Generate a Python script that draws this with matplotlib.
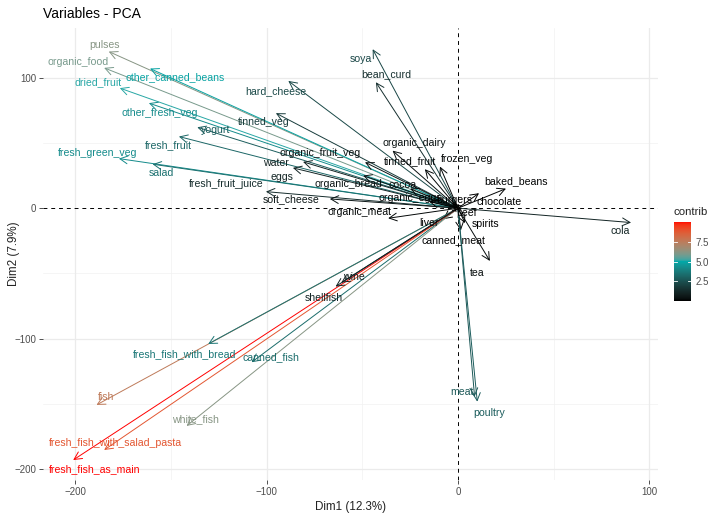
import numpy as np
import matplotlib
matplotlib.use('Agg')
from matplotlib import pyplot as plt
from matplotlib.colors import ListedColormap, Normalize, to_rgb

plt.rcParams['font.family'] = ['Liberation Sans', 'DejaVu Sans']

# PCA variable coordinates (Dim1, Dim2) and contributions
variables = ['pulses', 'organic_food', 'other_canned_beans', 'dried_fruit', 'hard_cheese',
             'other_fresh_veg', 'tinned_veg', 'yogurt', 'fresh_fruit', 'fresh_green_veg',
             'salad', 'water', 'eggs', 'fresh_fruit_juice', 'organic_fruit_veg',
             'organic_bread', 'cocoa', 'soft_cheese', 'organic_meat', 'soya',
             'bean_curd', 'organic_dairy', 'tinned_fruit', 'frozen_veg', 'baked_beans',
             'chocolate', 'cola', 'liver', 'spirits', 'canned_meat', 'tea', 'meat',
             'poultry', 'fish', 'fresh_fish_with_bread', 'canned_fish',
             'white_fish', 'fresh_fish_with_salad_pasta', 'fresh_fish_as_main',
             'wine', 'shellfish', 'organic_eggs', 'burgers', 'beef']
dim1 = [-182.6, -185.0, -161.0, -176.8, -88.7,
        -161.6, -95.2, -136.3, -145.9, -177.3,
        -159.7, -81.0, -86.3, -100.4, -48.6,
        -49.6, -25.0, -67.0, -36.5, -44.6,
        -42.9, -34.2, -17.3, -9.4, 25.1,
        11.0, 90.5, -7.7, 3.7, 1.5, 16.7, 8.7,
        10.1, -189.0, -130.6, -107.9,
        -141.9, -185.0, -201.2,
        -61.0, -64.0, -15.0, -3.0, 2.0]
dim2 = [120.0, 107.5, 107.0, 92.0, 97.5,
        80.5, 72.8, 62.0, 54.9, 38.0,
        33.7, 35.5, 30.9, 12.7, 35.2,
        25.0, 15.0, 7.1, -7.7, 121.8,
        96.5, 44.1, 29.9, 31.9, 15.0,
        11.5, -11.0, -8.4, -11.4, -17.0, -40.4, -144.4,
        -148.2, -150.7, -104.0, -118.0,
        -166.8, -185.2, -192.9,
        -57.0, -60.0, 5.0, 4.0, -1.0]
contrib = [6.2, 5.95, 4.86, 5.16, 2.26,
           4.24, 1.87, 2.91, 3.16, 4.26,
           3.46, 1.02, 1.09, 1.33, 0.47,
           0.40, 0.16, 0.59, 0.18, 2.19,
           1.45, 0.40, 0.16, 0.14, 0.11,
           0.03, 1.08, 0.02, 0.02, 0.04, 0.25, 2.72,
           2.87, 7.6, 3.62, 3.33,
           6.23, 8.9, 10.1,
           0.91, 1.00, 0.04, 0.01, 0.0]

# label offsets (pixels) from the arrow tip, like ggrepel placed them
label_offset = {
    'pulses': (-4, 7), 'organic_food': (-26, 6), 'other_canned_beans': (25, -9),
    'dried_fruit': (-22, 6), 'hard_cheese': (-13, -10), 'other_fresh_veg': (11, -10),
    'tinned_veg': (-12, -9), 'yogurt': (18, -3), 'fresh_fruit': (-11, -9),
    'fresh_green_veg': (-21, 6), 'salad': (9, -9), 'water': (-27, -1), 'eggs': (-11, -9),
    'fresh_fruit_juice': (-40, 8), 'organic_fruit_veg': (-45, 9),
    'organic_bread': (-15, -8), 'cocoa': (-8, 4), 'soft_cheese': (-39, 0),
    'organic_meat': (-29, 6), 'soya': (-12, -10), 'bean_curd': (10, 8),
    'organic_dairy': (22, 8), 'tinned_fruit': (-15, 8), 'frozen_veg': (27, 8),
    'baked_beans': (10, 8), 'chocolate': (20, -9), 'cola': (-11, -8),
    'liver': (-14, -4), 'spirits': (20, -1), 'canned_meat': (-7, -10),
    'tea': (-13, -12), 'meat': (-13, 5), 'poultry': (12, -11), 'wine': (13, 6),
    'shellfish': (-12, -11), 'fresh_fish_with_bread': (-24, -10),
    'canned_fish': (19, 5), 'fish': (10, 8), 'white_fish': (9, 7),
    'fresh_fish_with_salad_pasta': (11, 7), 'fresh_fish_as_main': (21, -9),
    'organic_eggs': (-19, 4), 'burgers': (2, 3), 'beef': (5, -3),
}


# ggplot interpolates gradients in Lab space
def srgb_to_lab(rgb):
    c = np.asarray(rgb, float)
    c = np.where(c <= 0.04045, c / 12.92, ((c + 0.055) / 1.055) ** 2.4)
    m = np.array([[0.4124, 0.3576, 0.1805], [0.2126, 0.7152, 0.0722], [0.0193, 0.1192, 0.9505]])
    xyz = m @ c / np.array([0.95047, 1.0, 1.08883])
    f = np.where(xyz > 0.008856, np.cbrt(xyz), 7.787 * xyz + 16 / 116)
    return np.array([116 * f[1] - 16, 500 * (f[0] - f[1]), 200 * (f[1] - f[2])])


def lab_to_srgb(lab):
    L, a, b = lab
    fy = (L + 16) / 116
    f = np.array([fy + a / 500, fy, fy - b / 200])
    xyz = np.where(f ** 3 > 0.008856, f ** 3, (f - 16 / 116) / 7.787) * np.array([0.95047, 1.0, 1.08883])
    mi = np.array([[3.2406, -1.5372, -0.4986], [-0.9689, 1.8758, 0.0415], [0.0557, -0.2040, 1.0570]])
    c = mi @ xyz
    c = np.where(c <= 0.0031308, 12.92 * c, 1.055 * np.clip(c, 0, None) ** (1 / 2.4) - 0.055)
    return np.clip(c, 0, 1)


stops = [srgb_to_lab(to_rgb(c)) for c in ['black', '#00A8A8', 'red']]
cols = []
for t in np.linspace(0, 1, 256):
    if t <= 0.5:
        lab = stops[0] + (stops[1] - stops[0]) * t / 0.5
    else:
        lab = stops[1] + (stops[2] - stops[1]) * (t - 0.5) / 0.5
    cols.append(lab_to_srgb(lab))
cmap = ListedColormap(cols)
norm = Normalize(min(contrib), max(contrib))

fig = plt.figure(figsize=(7.16, 5.15), dpi=100)
ax = fig.add_axes([0.060, 0.068, 0.859, 0.878])
ax.set_xlim(-217, 104.6)
ax.set_ylim(-208.2, 138.2)

for v in [-150, -50, 50]:
    ax.axvline(v, color='#F2F2F2', lw=0.5, zorder=0)
    ax.axhline(v, color='#F2F2F2', lw=0.5, zorder=0)
for v in [-200, -100, 100]:
    ax.axvline(v, color='#EBEBEB', lw=0.9, zorder=0)
    ax.axhline(v, color='#EBEBEB', lw=0.9, zorder=0)
ax.axhline(0, color='black', lw=0.7, ls=(0, (4, 4)), zorder=1)
ax.axvline(0, color='black', lw=0.7, ls=(0, (4, 4)), zorder=1)

for name, x, y, c in zip(variables, dim1, dim2, contrib):
    col = cmap(norm(c))
    ax.annotate('', xy=(x, y), xytext=(0, 0),
                arrowprops=dict(arrowstyle='->,head_length=0.55,head_width=0.28',
                                color=col, lw=0.7, shrinkA=0, shrinkB=0), zorder=2)
for name, x, y, c in zip(variables, dim1, dim2, contrib):
    col = cmap(norm(c))
    dx, dy = label_offset[name]
    ax.annotate(name, xy=(x, y), xytext=(dx, dy), textcoords='offset pixels',
                ha='center', va='center', fontsize=7.6, color=col, zorder=3)

ax.set_xticks([-200, -100, 0, 100])
ax.set_yticks([-200, -100, 0, 100])
ax.tick_params(length=3, width=0.6, color='#333333', labelcolor='#4D4D4D', labelsize=7, pad=2)
for s in ax.spines.values():
    s.set_visible(False)
ax.set_xlabel('Dim1 (12.3%)', fontsize=8.4, color='#222222', labelpad=3)
ax.set_ylabel('Dim2 (7.9%)', fontsize=8.4, color='#222222')
ax.yaxis.set_label_coords(-0.037, 0.5)
fig.text(0.060, 0.972, 'Variables - PCA', fontsize=10, ha='left', va='center', color='black')

cax = fig.add_axes([0.9413, 0.4155, 0.0237, 0.154])
sm = plt.cm.ScalarMappable(norm=norm, cmap=cmap)
cb = fig.colorbar(sm, cax=cax, ticks=[2.5, 5.0, 7.5])
cb.outline.set_visible(False)
cb.ax.tick_params(length=0, labelsize=7, labelcolor='#4D4D4D', pad=3)
cb.ax.set_yticklabels(['2.5', '5.0', '7.5'])
for t in [2.5, 5.0, 7.5]:
    cax.plot([0, 0.2], [t, t], color='white', lw=0.6, transform=cax.get_yaxis_transform())
    cax.plot([0.8, 1.0], [t, t], color='white', lw=0.6, transform=cax.get_yaxis_transform())
fig.text(0.9413, 0.589, 'contrib', fontsize=8.2, ha='left', va='center', color='#222222')

fig.savefig('out.png', dpi=100)
